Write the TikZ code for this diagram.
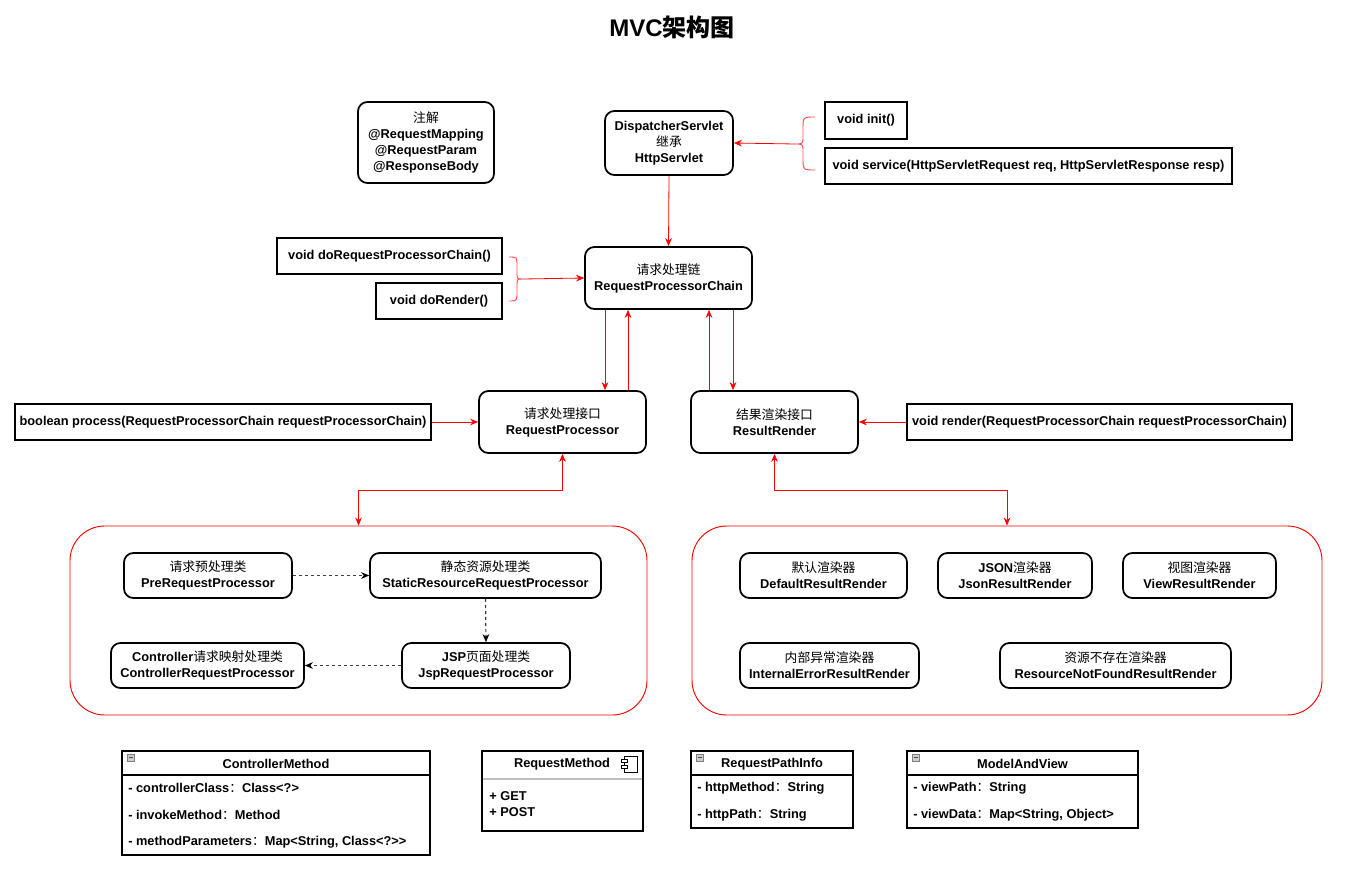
\documentclass[tikz,border=0pt]{standalone}
\usepackage{fontspec}
\setmainfont{Liberation Sans}
\newfontfamily\cjk{Noto Sans CJK SC}
\newcommand\zh[1]{{\cjk\mdseries #1}}
\newcommand\zhb[1]{{\cjk\bfseries #1}}
\usetikzlibrary{arrows.meta}
\begin{document}
\begin{tikzpicture}[x=0.75pt,y=-0.75pt,
  every node/.style={font=\fontsize{9.6}{12}\selectfont\bfseries},
  sz/.style 2 args={minimum width=#1*0.75pt, minimum height=#2*0.75pt},
  rbox/.style={draw, line width=1.3pt, rounded corners=7pt, align=center, inner sep=1pt},
  sbox/.style={draw, line width=1.3pt, align=center, inner sep=1pt},
  cont/.style={draw=red, line width=0.7pt, rounded corners=26pt},
  rarr/.style={draw=red, line width=0.6pt, -{Stealth[length=6pt,width=5pt]}},
  rarr2/.style={draw=red, line width=0.6pt, {Stealth[length=6pt,width=5pt]}-{Stealth[length=6pt,width=5pt]}},
  darr/.style={draw=black!75, dash pattern=on 2.5pt off 2pt, line width=0.9pt, -{Stealth[length=6pt,width=5pt,color=black]}},
  bracestyle/.style={draw=red!70, line width=0.7pt},
  uml/.style={draw, line width=1.2pt, inner sep=0pt},
  row/.style={anchor=west, inner sep=0pt},
  minus/.style={draw=gray, fill=gray!40, line width=0.4pt}
]
\useasboundingbox (0,0) rectangle (1348,877);

% title
\node (title) at (672,27) {\fontsize{18}{21}\selectfont MVC\zhb{架构图}};

% top
\node[rbox, sz={136}{81}] (ann) at (426,142.5) {\zh{注解}\\@RequestMapping\\@RequestParam\\@ResponseBody};
\node[rbox, sz={128}{64}] (ds) at (669,143) {DispatcherServlet\\\zh{继承}\\HttpServlet};
\node[sbox, sz={82}{37}] (init) at (866,120.5) {void init()};
\node[sbox, sz={407}{36}] (service) at (1028.5,166) {void service(HttpServletRequest req, HttpServletResponse resp)};

\coordinate (b1) at (795,144);
\draw[bracestyle] (815,117) .. controls (803,117) .. (803,129) -- (803,136)
  .. controls (803,144) .. (b1) .. controls (803,144) .. (803,152) -- (803,158)
  .. controls (803,170) .. (815,170);
\draw[rarr] (b1) -- (ds.east);

\node[rbox, sz={167}{62}] (chain) at (668.5,278) {\zh{请求处理链}\\RequestProcessorChain};
\draw[rarr] (ds.south) -- (chain.north);

\node[sbox, sz={225}{36}] (dorpc) at (389.5,256) {void doRequestProcessorChain()};
\node[sbox, sz={126}{36}] (dorender) at (439,301) {void doRender()};
\coordinate (b2) at (523,279);
\draw[bracestyle] (509,257) .. controls (517,257) .. (517,266) -- (517,272)
  .. controls (517,279) .. (b2) .. controls (517,279) .. (517,286) -- (517,292)
  .. controls (517,301) .. (509,301);
\draw[rarr] (b2) -- (chain.west);

% middle
\node[rbox, sz={167}{62}] (rp) at (562.5,422) {\zh{请求处理接口}\\RequestProcessor};
\node[rbox, sz={167}{62}] (rr) at (774.5,422) {\zh{结果渲染接口}\\ResultRender};
\node[sbox, sz={416}{36}] (proc) at (223,422) {boolean process(RequestProcessorChain requestProcessorChain)};
\node[sbox, sz={385}{36}] (render) at (1099.5,422) {void render(RequestProcessorChain requestProcessorChain)};
\draw[rarr] (proc.east) -- (rp.west);
\draw[rarr] (render.west) -- (rr.east);

\coordinate (xa) at (605,0);
\coordinate (xb) at (628,0);
\coordinate (xc) at (709,0);
\coordinate (xd) at (733,0);
\draw[rarr] (chain.south -| xa) -- (rp.north -| xa);
\draw[rarr] (rp.north -| xb) -- (chain.south -| xb);
\draw[rarr] (rr.north -| xc) -- (chain.south -| xc);
\draw[rarr] (chain.south -| xd) -- (rr.north -| xd);

% containers
\node[cont, sz={577}{189}] (lc) at (358.5,620.5) {};
\node[cont, sz={630}{189}] (rc) at (1007,620.5) {};
\draw[rarr2] (rp.south) -- ++(0,37) -| (lc.north);
\draw[rarr2] (rr.south) -- ++(0,37) -| (rc.north);

% left container content
\node[rbox, sz={168}{45}] (pre) at (208,575.5) {\zh{请求预处理类}\\PreRequestProcessor};
\node[rbox, sz={231}{45}] (static) at (485.5,575.5) {\zh{静态资源处理类}\\StaticResourceRequestProcessor};
\node[rbox, sz={193}{45}] (ctrl) at (207.5,665.5) {Controller\zh{请求映射处理类}\\ControllerRequestProcessor};
\node[rbox, sz={168}{45}] (jsp) at (486,665.5) {JSP\zh{页面处理类}\\JspRequestProcessor};
\draw[darr] (pre.east) -- (static.west);
\draw[darr] (static.south) -- (jsp.north);
\draw[darr] (jsp.west) -- (ctrl.east);

% right container content
\node[rbox, sz={167}{45}] (def) at (823.5,575.5) {\zh{默认渲染器}\\DefaultResultRender};
\node[rbox, sz={154}{45}] (json) at (1015,575.5) {JSON\zh{渲染器}\\JsonResultRender};
\node[rbox, sz={153}{45}] (view) at (1199.5,575.5) {\zh{视图渲染器}\\ViewResultRender};
\node[rbox, sz={179}{45}] (internal) at (829.5,665.5) {\zh{内部异常渲染器}\\InternalErrorResultRender};
\node[rbox, sz={231}{45}] (notfound) at (1115.5,665.5) {\zh{资源不存在渲染器}\\ResourceNotFoundResultRender};

% UML: ControllerMethod
\node[uml, sz={308}{104}] (cm) at (276,803) {};
\draw[line width=1.2pt] (122,775) -- (430,775);
\draw[minus] (127,754) rectangle (134,761);
\draw[line width=0.6pt, black!70] (128.5,757.5) -- (132.5,757.5);
\node (cmh) at (276,764) {ControllerMethod};
\node[row] (cm1) at (128,788) {- controllerClass\zh{：}Class<?>};
\node[row] (cm2) at (128,815) {- invokeMethod\zh{：}Method};
\node[row] (cm3) at (128,842) {- methodParameters\zh{：}Map<String, Class<?>\kern0pt>};

% UML: RequestMethod
\node[uml, sz={161}{80}] (rm) at (562.5,791) {};
\draw[line width=1.5pt, black!25] (483,779) -- (642,779);
\node (rmh) at (562,764) {RequestMethod};
\draw[line width=0.7pt, fill=white] (624,756) rectangle (637,772);
\draw[line width=0.7pt, fill=white] (621,759) rectangle (627,762);
\draw[line width=0.7pt, fill=white] (621,765) rectangle (627,768);
\node[row] (rm1) at (489,796) {+ GET};
\node[row] (rm2) at (489,812) {+ POST};

% UML: RequestPathInfo
\node[uml, sz={162}{77}] (rpi) at (772,789.5) {};
\draw[line width=1.2pt] (691,775) -- (853,775);
\draw[minus] (696,754) rectangle (703,761);
\draw[line width=0.6pt, black!70] (697.5,757.5) -- (701.5,757.5);
\node (rpih) at (772,764) {RequestPathInfo};
\node[row] (rpi1) at (697,788) {- httpMethod\zh{：}String};
\node[row] (rpi2) at (697,815) {- httpPath\zh{：}String};

% UML: ModelAndView
\node[uml, sz={231}{77}] (mav) at (1022.5,789.5) {};
\draw[line width=1.2pt] (907,775) -- (1138,775);
\draw[minus] (912,754) rectangle (919,761);
\draw[line width=0.6pt, black!70] (913.5,757.5) -- (917.5,757.5);
\node (mavh) at (1022.5,764) {ModelAndView};
\node[row] (mav1) at (913,788) {- viewPath\zh{：}String};
\node[row] (mav2) at (913,815) {- viewData\zh{：}Map<String, Object>};
\end{tikzpicture}
\end{document}
